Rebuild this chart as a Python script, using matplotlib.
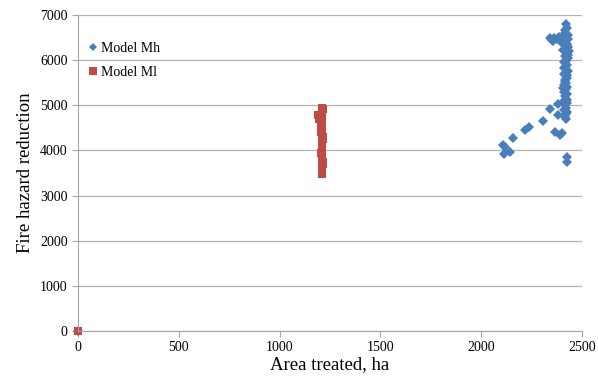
import matplotlib.pyplot as plt

# Model Mh: area treated (ha) vs fire hazard reduction
mh_area = [0, 2420, 2425, 2418, 2415, 2430, 2340, 2350, 2362, 2375, 2388, 2400, 2410,
           2420, 2430, 2355, 2395, 2412, 2425, 2430, 2420, 2435, 2425, 2415, 2430,
           2420, 2410, 2425, 2415, 2420, 2430, 2410, 2420, 2425, 2415, 2420, 2410,
           2425, 2420, 2410, 2425, 2415, 2420, 2410, 2425, 2415, 2420, 2410, 2425,
           2420, 2415, 2420, 2428, 2405, 2432, 2422, 2412, 2428, 2418, 2408, 2428,
           2380, 2340, 2382, 2305, 2235, 2215, 2160, 2110, 2115, 2145, 2365, 2392,
           2425, 2425, 2120, 2402]
mh_reduction = [0, 6800, 6720, 6660, 6600, 6560, 6480, 6450, 6500, 6470, 6520, 6480, 6450,
                6430, 6470, 6420, 6400, 6380, 6350, 6300, 6250, 6200, 6150, 6100, 6050,
                6000, 5950, 5900, 5850, 5800, 5750, 5700, 5650, 5600, 5550, 5500, 5450,
                5400, 5350, 5300, 5250, 5200, 5150, 5100, 5050, 5000, 4950, 4900, 4850,
                4800, 4750, 4690, 6325, 6225, 6125, 5975, 5825, 5675, 5525, 5375, 5125,
                5030, 4910, 4790, 4660, 4530, 4455, 4270, 4120, 3920, 3970, 4415, 4345,
                3860, 3750, 4070, 4380]

# Model Ml
ml_area = [0, 1210, 1212, 1208, 1214, 1210, 1206, 1212, 1209, 1213, 1208, 1211,
           1207, 1212, 1195, 1190, 1210, 1212, 1211, 1209, 1213, 1208, 1210, 1212,
           1209, 1211, 1214, 1207, 1210, 1212, 1208, 1213]
ml_reduction = [0, 3480, 3560, 3650, 3750, 3850, 3950, 4050, 4150, 4250, 4350, 4450,
                4550, 4650, 4700, 4780, 4870, 4950, 3520, 3600, 3700, 3800, 3900, 4000,
                4100, 4200, 4300, 4400, 4500, 4600, 4820, 4910]

x_ticks = [0, 500, 1000, 1500, 2000, 2500]
y_ticks = [0, 1000, 2000, 3000, 4000, 5000, 6000, 7000]

plt.rcParams['font.family'] = ['Liberation Serif', 'DejaVu Serif']

fig = plt.figure(figsize=(5.98, 3.79), dpi=100)
ax = fig.add_axes([0.1304, 0.1266, 0.8428, 0.8338])

ax.plot(mh_area, mh_reduction, 'D', color='#4a7ebb', markersize=5.5,
        markeredgewidth=0, label='Model Mh', clip_on=False)
ax.plot(ml_area, ml_reduction, 's', color='#be4b48', markersize=5.5,
        markeredgewidth=0, label='Model Ml', clip_on=False)

ax.set_xlim(0, 2500)
ax.set_ylim(0, 7000)
ax.set_xticks(x_ticks)
ax.set_yticks(y_ticks)
ax.yaxis.grid(True, color='#b3b3b3', linewidth=0.9)
ax.set_axisbelow(True)

for side in ['top', 'right']:
    ax.spines[side].set_visible(False)
for side in ['left', 'bottom']:
    ax.spines[side].set_color('#a6a6a6')
ax.tick_params(colors='#a6a6a6', labelcolor='black', labelsize=10, length=4, width=0.8)

ax.set_xlabel('Area treated, ha', fontsize=13.5, labelpad=1)
ax.set_ylabel('Fire hazard reduction', fontsize=13.5, labelpad=4)

leg = ax.legend(loc='upper left', bbox_to_anchor=(0.005, 0.94), frameon=False, fontsize=10,
                handlelength=0.6, handletextpad=0.25, labelspacing=0.75, borderaxespad=0.2)
leg.legend_handles[0].set_markersize(4.5)

fig.savefig('out.png', dpi=100)
